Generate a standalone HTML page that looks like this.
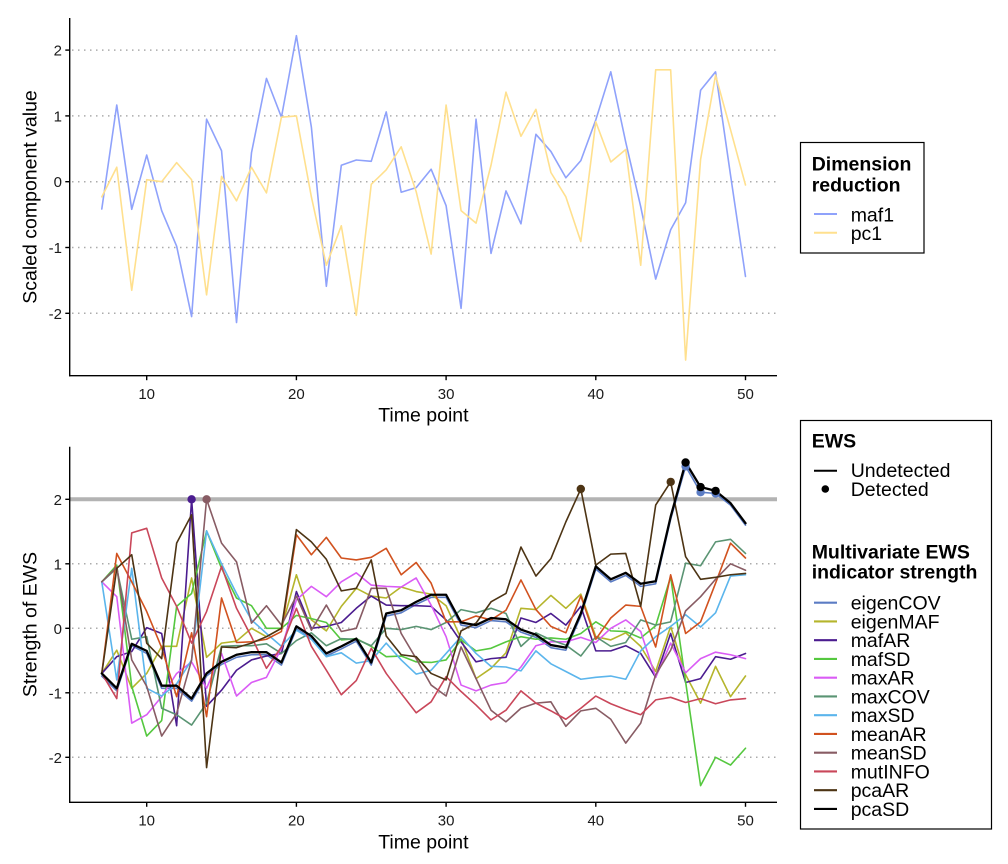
<!DOCTYPE html>
<html><head><meta charset="utf-8"><style>
html,body{margin:0;padding:0;background:#fff;}
svg{display:block;font-family:"Liberation Sans",Arial,sans-serif;}
.s{fill:none;stroke-width:1.6;stroke-linejoin:round;stroke-linecap:round;}
</style></head><body>
<svg width="1008" height="864" viewBox="0 0 1008 864" xmlns="http://www.w3.org/2000/svg">
<rect width="1008" height="864" fill="#fff"/>

<!-- ========== TOP PANEL ========== -->
<g stroke="#ababab" stroke-width="1.5" stroke-dasharray="1.5 4.5" fill="none">
<line x1="72" y1="50.1" x2="777" y2="50.1"/>
<line x1="72" y1="115.9" x2="777" y2="115.9"/>
<line x1="72" y1="181.7" x2="777" y2="181.7"/>
<line x1="72" y1="247.5" x2="777" y2="247.5"/>
<line x1="72" y1="313.3" x2="777" y2="313.3"/>
</g>
<g transform="matrix(14.97 0 0 -65.8 -3.0 181.7)">
<polyline class="s" vector-effect="non-scaling-stroke" stroke="#8fa2fb" points="7,-0.415 8,1.165 9,-0.42 10,0.405 11,-0.44 12,-0.98 13,-2.05 14,0.95 15,0.47 16,-2.14 17,0.44 18,1.57 19,0.98 20,2.22 21,0.83 22,-1.59 23,0.25 24,0.33 25,0.31 26,1.06 27,-0.16 28,-0.09 29,0.19 30,-0.365 31,-1.925 32,0.95 33,-1.09 34,-0.14 35,-0.64 36,0.72 37,0.46 38,0.06 39,0.32 40,0.94 41,1.67 42,0.6 43,-0.38 44,-1.48 45,-0.73 46,-0.32 47,1.39 48,1.67 49,0.1 50,-1.44"/>
<polyline class="s" vector-effect="non-scaling-stroke" stroke="#ffe08e" points="7,-0.23 8,0.22 9,-1.65 10,0.03 11,0.0 12,0.29 13,0.03 14,-1.72 15,0.08 16,-0.29 17,0.22 18,-0.17 19,0.98 20,1.0 21,-0.23 22,-1.27 23,-0.67 24,-2.03 25,-0.04 26,0.18 27,0.53 28,-0.15 29,-1.1 30,1.165 31,-0.44 32,-0.63 33,0.25 34,1.36 35,0.69 36,1.1 37,0.14 38,-0.23 39,-0.91 40,0.91 41,0.3 42,0.49 43,-1.27 44,1.7 45,1.7 46,-2.71 47,0.34 48,1.62 49,0.79 50,-0.05"/>
</g>
<g stroke="#000" stroke-width="1.4" fill="none">
<line x1="69.7" y1="18" x2="69.7" y2="376.4"/>
<line x1="69" y1="375.7" x2="777" y2="375.7"/>
<line x1="65.3" y1="50.1" x2="69.7" y2="50.1"/>
<line x1="65.3" y1="115.9" x2="69.7" y2="115.9"/>
<line x1="65.3" y1="181.7" x2="69.7" y2="181.7"/>
<line x1="65.3" y1="247.5" x2="69.7" y2="247.5"/>
<line x1="65.3" y1="313.3" x2="69.7" y2="313.3"/>
<line x1="146.7" y1="375.7" x2="146.7" y2="380.2"/>
<line x1="296.4" y1="375.7" x2="296.4" y2="380.2"/>
<line x1="446.1" y1="375.7" x2="446.1" y2="380.2"/>
<line x1="595.8" y1="375.7" x2="595.8" y2="380.2"/>
<line x1="745.5" y1="375.7" x2="745.5" y2="380.2"/>
</g>
<g font-size="15" fill="#1a1a1a" text-anchor="end">
<text x="62" y="55.6">2</text>
<text x="62" y="121.4">1</text>
<text x="62" y="187.2">0</text>
<text x="62" y="253">-1</text>
<text x="62" y="318.8">-2</text>
</g>
<g font-size="15" fill="#1a1a1a" text-anchor="middle">
<text x="146.7" y="399">10</text>
<text x="296.4" y="399">20</text>
<text x="446.1" y="399">30</text>
<text x="595.8" y="399">40</text>
<text x="745.5" y="399">50</text>
</g>
<text x="423.4" y="421.7" font-size="19.5" text-anchor="middle" fill="#000">Time point</text>
<text transform="translate(36.5,197) rotate(-90)" font-size="19.5" text-anchor="middle" fill="#000">Scaled component value</text>

<!-- top legend -->
<rect x="800.5" y="142.5" width="123.5" height="110.5" fill="#fff" stroke="#000" stroke-width="1.2"/>
<text x="811.7" y="170.7" font-size="19.5" font-weight="bold">Dimension</text>
<text x="811.7" y="191.7" font-size="19.5" font-weight="bold">reduction</text>
<line x1="814" y1="214" x2="837" y2="214" stroke="#8fa2fb" stroke-width="2"/>
<line x1="814" y1="232.7" x2="837" y2="232.7" stroke="#ffe08e" stroke-width="2"/>
<text x="850.7" y="221.5" font-size="19.5">maf1</text>
<text x="850.7" y="240.2" font-size="19.5">pc1</text>

<!-- ========== BOTTOM PANEL ========== -->
<g stroke="#ababab" stroke-width="1.5" stroke-dasharray="1.5 4.5" fill="none">
<line x1="72" y1="563.8" x2="777" y2="563.8"/>
<line x1="72" y1="628.3" x2="777" y2="628.3"/>
<line x1="72" y1="692.8" x2="777" y2="692.8"/>
<line x1="72" y1="757.3" x2="777" y2="757.3"/>
</g>
<line x1="70" y1="499.3" x2="777" y2="499.3" stroke="#b3b3b3" stroke-width="4"/>

<g transform="matrix(14.97 0 0 -64.5 -3.0 628.3)">
<polyline class="s" vector-effect="non-scaling-stroke" stroke="#5b7cc4" points="7,-0.74 8,-0.97 9,-0.27 10,-0.39 11,-0.93 12,-0.93 13,-1.13 14,-0.74 15,-0.56 16,-0.45 17,-0.41 18,-0.41 19,-0.57 20,-0.01 21,-0.16 22,-0.43 23,-0.32 24,-0.2 25,-0.57 26,0.19 27,0.24 28,0.37 29,0.48 30,0.48 31,0.05 32,0.01 33,0.12 34,0.1 35,-0.06 36,-0.14 37,-0.3 38,-0.34 39,0.19 40,0.92 41,0.72 42,0.82 43,0.65 44,0.69 45,1.69 46,2.51 47,2.11 48,2.09 49,1.91 50,1.6"/>
<polyline class="s" vector-effect="non-scaling-stroke" stroke="#b5b52c" points="7,-0.7 8,-0.34 9,-0.93 10,-0.7 11,-0.28 12,-0.28 13,0.78 14,-0.45 15,-0.23 16,-0.2 17,0.0 18,-0.13 19,0.0 20,0.83 21,0.13 22,-0.04 23,0.34 24,0.62 25,0.5 26,0.47 27,0.64 28,0.57 29,0.53 30,0.35 31,-0.16 32,-0.78 33,-0.62 34,-0.38 35,0.31 36,0.29 37,0.51 38,0.31 39,0.53 40,-0.13 41,-0.18 42,-0.07 43,-0.28 44,-0.67 45,0.03 46,-0.72 47,-1.16 48,-0.59 49,-1.06 50,-0.74"/>
<polyline class="s" vector-effect="non-scaling-stroke" stroke="#4b1c8f" points="7,-0.7 8,-0.44 9,-0.36 10,0.01 11,-0.08 12,-1.51 13,2.0 14,-1.21 15,-0.96 16,-0.65 17,-0.49 18,-0.43 19,-0.39 20,0.57 21,0.0 22,0.03 23,0.09 24,0.31 25,0.5 26,0.36 27,0.35 28,0.35 29,0.34 30,0.13 31,-0.21 32,-0.52 33,-0.47 34,-0.45 35,0.16 36,0.09 37,0.23 38,0.05 39,0.34 40,-0.35 41,-0.35 42,-0.27 43,-0.39 44,-0.76 45,-0.08 46,-0.84 47,-0.78 48,-0.44 49,-0.48 50,-0.39"/>
<polyline class="s" vector-effect="non-scaling-stroke" stroke="#55c83f" points="7,0.72 8,0.98 9,-0.9 10,-1.67 11,-1.43 12,0.34 13,0.54 14,1.51 15,0.93 16,0.47 17,0.35 18,0.0 19,0.0 20,0.2 21,0.15 22,0.09 23,-0.18 24,-0.16 25,-0.28 26,-0.44 27,-0.43 28,-0.52 29,-0.53 30,-0.49 31,-0.18 32,-0.35 33,-0.31 34,-0.21 35,-0.13 36,-0.17 37,-0.15 38,-0.17 39,-0.08 40,0.1 41,-0.04 42,-0.05 43,-0.15 44,0.04 45,0.8 46,-0.83 47,-2.44 48,-2.0 49,-2.12 50,-1.86"/>
<polyline class="s" vector-effect="non-scaling-stroke" stroke="#da5cf5" points="7,0.72 8,0.49 9,-1.47 10,-1.34 11,-1.06 12,-0.7 13,-0.52 14,-0.93 15,-0.39 16,-1.05 17,-0.84 18,-0.76 19,-0.31 20,0.44 21,0.65 22,0.49 23,0.72 24,0.86 25,0.67 26,0.65 27,0.64 28,0.78 29,0.36 30,-0.13 31,-0.88 32,-0.97 33,-0.88 34,-0.84 35,-0.6 36,-0.27 37,-0.21 38,-0.21 39,-0.14 40,-0.22 41,0.0 42,0.13 43,-0.05 44,-0.76 45,-0.23 46,-0.69 47,-0.47 48,-0.37 49,-0.41 50,-0.47"/>
<polyline class="s" vector-effect="non-scaling-stroke" stroke="#5a9473" points="7,0.72 8,0.93 9,-0.17 10,-0.13 11,-1.24 12,-1.34 13,-1.5 14,-1.16 15,-0.28 16,-0.27 17,-0.27 18,-0.24 19,-0.39 20,-0.19 21,-0.07 22,-0.27 23,-0.16 24,-0.17 25,-0.27 26,0.0 27,-0.02 28,0.03 29,-0.02 30,0.09 31,0.29 32,0.24 33,0.31 34,0.23 35,-0.28 36,-0.07 37,-0.18 38,-0.26 39,-0.43 40,-0.13 41,-0.28 42,-0.22 43,0.13 44,0.05 45,0.1 46,1.01 47,0.97 48,1.34 49,1.38 50,1.16"/>
<polyline class="s" vector-effect="non-scaling-stroke" stroke="#5bb5ec" points="7,0.72 8,-0.8 9,0.93 10,-0.93 11,-1.05 12,-0.86 13,-0.49 14,1.51 15,1.0 16,0.54 17,0.13 18,-0.08 19,-0.28 20,-0.03 21,-0.17 22,-0.44 23,-0.38 24,-0.54 25,-0.5 26,-0.23 27,-0.49 28,-0.71 29,-0.65 30,-0.39 31,-0.13 32,-0.39 33,-0.59 34,-0.6 35,-0.66 36,-0.35 37,-0.55 38,-0.67 39,-0.79 40,-0.76 41,-0.74 42,-0.79 43,-0.35 44,-0.13 45,0.03 46,0.21 47,0.02 48,0.24 49,0.81 50,0.83"/>
<polyline class="s" vector-effect="non-scaling-stroke" stroke="#d1521f" points="7,-0.7 8,1.16 9,0.72 10,0.26 11,-0.3 12,-1.06 13,-0.07 14,-1.37 15,0.47 16,-0.22 17,-0.21 18,-0.17 19,-0.05 20,1.45 21,1.14 22,1.41 23,1.09 24,1.06 25,1.1 26,1.24 27,0.83 28,1.02 29,0.7 30,0.1 31,0.1 32,0.19 33,0.13 34,0.28 35,0.75 36,0.29 37,0.03 38,-0.07 39,0.5 40,-0.17 41,0.16 42,0.36 43,0.34 44,-0.29 45,0.83 46,-0.08 47,0.1 48,0.7 49,1.32 50,1.09"/>
<polyline class="s" vector-effect="non-scaling-stroke" stroke="#885c64" points="7,0.72 8,0.95 9,-0.49 10,-0.9 11,-1.67 12,-1.32 13,-0.49 14,2.0 15,1.32 16,1.03 17,0.08 18,0.35 19,0.05 20,0.5 21,-0.03 22,0.36 23,-0.05 24,0.0 25,0.62 26,0.62 27,-0.08 28,-0.47 29,-0.88 30,-1.05 31,-0.29 32,-0.78 33,-1.27 34,-1.45 35,-1.24 36,-1.16 37,-1.14 38,-1.52 39,-1.28 40,-1.24 41,-1.41 42,-1.78 43,-1.47 44,-0.72 45,-0.34 46,0.27 47,0.49 48,0.76 49,1.0 50,0.9"/>
<polyline class="s" vector-effect="non-scaling-stroke" stroke="#c9475a" points="7,-0.7 8,-1.09 9,1.48 10,1.55 11,0.78 12,0.34 13,-0.23 14,0.26 15,0.96 16,0.31 17,-0.13 18,-0.62 19,-0.29 20,0.31 21,-0.28 22,-0.65 23,-1.03 24,-0.81 25,-0.31 26,-0.7 27,-1.01 28,-1.31 29,-1.14 30,-0.75 31,-0.98 32,-1.19 33,-1.42 34,-1.27 35,-0.97 36,-1.16 37,-1.28 38,-1.41 39,-1.24 40,-1.05 41,-1.17 42,-1.26 43,-1.34 44,-1.11 45,-1.07 46,-1.15 47,-1.09 48,-1.17 49,-1.11 50,-1.09"/>
<polyline class="s" vector-effect="non-scaling-stroke" stroke="#4d3414" points="7,-0.7 8,0.93 9,1.14 10,-0.23 11,-0.47 12,1.32 13,1.76 14,-2.16 15,-0.29 16,-0.3 17,-0.23 18,-0.13 19,0.0 20,1.53 21,1.34 22,1.07 23,0.58 24,0.62 25,1.06 26,-0.12 27,-0.41 28,-0.44 29,-0.7 30,-0.8 31,-0.04 32,0.08 33,0.41 34,0.54 35,1.26 36,0.81 37,1.08 38,1.65 39,2.16 40,0.98 41,1.15 42,1.16 43,0.34 44,1.91 45,2.27 46,1.11 47,0.76 48,0.79 49,0.83 50,0.85"/>
<polyline class="s" vector-effect="non-scaling-stroke" stroke="#000" style="stroke-width:2.3" points="7,-0.7 8,-0.93 9,-0.24 10,-0.35 11,-0.89 12,-0.89 13,-1.09 14,-0.7 15,-0.52 16,-0.41 17,-0.37 18,-0.37 19,-0.53 20,0.03 21,-0.12 22,-0.39 23,-0.28 24,-0.16 25,-0.53 26,0.23 27,0.28 28,0.41 29,0.52 30,0.52 31,0.09 32,0.05 33,0.16 34,0.14 35,-0.02 36,-0.1 37,-0.26 38,-0.3 39,0.23 40,0.96 41,0.76 42,0.86 43,0.69 44,0.73 45,1.73 46,2.57 47,2.19 48,2.13 49,1.94 50,1.63"/>
</g>
<!-- detected points -->
<circle cx="685.6" cy="466.4" r="4.2" fill="#5b7cc4"/>
<circle cx="700.6" cy="492.2" r="4.2" fill="#5b7cc4"/>
<circle cx="715.6" cy="493.5" r="4.2" fill="#5b7cc4"/>
<circle cx="191.6" cy="499.3" r="4.2" fill="#4b1c8f"/>
<circle cx="206.6" cy="499.3" r="4.2" fill="#885c64"/>
<circle cx="580.8" cy="489" r="4.2" fill="#4d3414"/>
<circle cx="670.7" cy="481.9" r="4.2" fill="#4d3414"/>
<circle cx="685.6" cy="462.5" r="4.2" fill="#000"/>
<circle cx="700.6" cy="487.1" r="4.2" fill="#000"/>
<circle cx="715.6" cy="490.9" r="4.2" fill="#000"/>

<g stroke="#000" stroke-width="1.4" fill="none">
<line x1="69.7" y1="446.7" x2="69.7" y2="803"/>
<line x1="69" y1="802.3" x2="777" y2="802.3"/>
<line x1="65.3" y1="499.3" x2="69.7" y2="499.3"/>
<line x1="65.3" y1="563.8" x2="69.7" y2="563.8"/>
<line x1="65.3" y1="628.3" x2="69.7" y2="628.3"/>
<line x1="65.3" y1="692.8" x2="69.7" y2="692.8"/>
<line x1="65.3" y1="757.3" x2="69.7" y2="757.3"/>
<line x1="146.7" y1="802.3" x2="146.7" y2="806.8"/>
<line x1="296.4" y1="802.3" x2="296.4" y2="806.8"/>
<line x1="446.1" y1="802.3" x2="446.1" y2="806.8"/>
<line x1="595.8" y1="802.3" x2="595.8" y2="806.8"/>
<line x1="745.5" y1="802.3" x2="745.5" y2="806.8"/>
</g>
<g font-size="15" fill="#1a1a1a" text-anchor="end">
<text x="62" y="504.8">2</text>
<text x="62" y="569.3">1</text>
<text x="62" y="633.8">0</text>
<text x="62" y="698.3">-1</text>
<text x="62" y="762.8">-2</text>
</g>
<g font-size="15" fill="#1a1a1a" text-anchor="middle">
<text x="146.7" y="825.7">10</text>
<text x="296.4" y="825.7">20</text>
<text x="446.1" y="825.7">30</text>
<text x="595.8" y="825.7">40</text>
<text x="745.5" y="825.7">50</text>
</g>
<text x="423.4" y="848.3" font-size="19.5" text-anchor="middle" fill="#000">Time point</text>
<text transform="translate(36.5,624.5) rotate(-90)" font-size="19.5" text-anchor="middle" fill="#000">Strength of EWS</text>

<!-- bottom legend -->
<rect x="800.5" y="420.5" width="191" height="408.5" fill="#fff" stroke="#000" stroke-width="1.2"/>
<text x="811.7" y="447.3" font-size="19.5" font-weight="bold">EWS</text>
<line x1="814" y1="470.7" x2="837" y2="470.7" stroke="#000" stroke-width="2"/>
<text x="850.7" y="477" font-size="19.5">Undetected</text>
<circle cx="825.3" cy="489" r="3.8" fill="#000"/>
<text x="850.7" y="495.8" font-size="19.5">Detected</text>
<text x="811.7" y="558.3" font-size="19.5" font-weight="bold">Multivariate EWS</text>
<text x="811.7" y="578.3" font-size="19.5" font-weight="bold">indicator strength</text>
<g stroke-width="2.2">
<line x1="814" y1="602.7" x2="837" y2="602.7" stroke="#5b7cc4"/>
<line x1="814" y1="621.45" x2="837" y2="621.45" stroke="#b5b52c"/>
<line x1="814" y1="640.2" x2="837" y2="640.2" stroke="#4b1c8f"/>
<line x1="814" y1="658.95" x2="837" y2="658.95" stroke="#55c83f"/>
<line x1="814" y1="677.7" x2="837" y2="677.7" stroke="#da5cf5"/>
<line x1="814" y1="696.45" x2="837" y2="696.45" stroke="#5a9473"/>
<line x1="814" y1="715.2" x2="837" y2="715.2" stroke="#5bb5ec"/>
<line x1="814" y1="733.95" x2="837" y2="733.95" stroke="#d1521f"/>
<line x1="814" y1="752.7" x2="837" y2="752.7" stroke="#885c64"/>
<line x1="814" y1="771.45" x2="837" y2="771.45" stroke="#c9475a"/>
<line x1="814" y1="790.2" x2="837" y2="790.2" stroke="#4d3414"/>
<line x1="814" y1="808.95" x2="837" y2="808.95" stroke="#000"/>
</g>
<g font-size="19.5" fill="#000">
<text x="850.7" y="609.6">eigenCOV</text>
<text x="850.7" y="628.35">eigenMAF</text>
<text x="850.7" y="647.1">mafAR</text>
<text x="850.7" y="665.85">mafSD</text>
<text x="850.7" y="684.6">maxAR</text>
<text x="850.7" y="703.35">maxCOV</text>
<text x="850.7" y="722.1">maxSD</text>
<text x="850.7" y="740.85">meanAR</text>
<text x="850.7" y="759.6">meanSD</text>
<text x="850.7" y="778.35">mutINFO</text>
<text x="850.7" y="797.1">pcaAR</text>
<text x="850.7" y="815.85">pcaSD</text>
</g>
</svg>
</body></html>
